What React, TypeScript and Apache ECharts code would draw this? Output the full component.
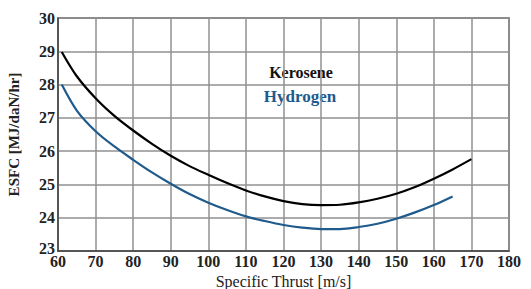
import React, { useEffect, useRef } from "react";
import * as echarts from "echarts";

const keroseneX = [61, 65, 70, 75, 80, 85, 90, 95, 100, 105, 110, 115, 120, 125, 130, 135, 140, 145, 150, 155, 160, 165, 170];
const keroseneY = [28.98, 28.25, 27.59, 27.06, 26.62, 26.22, 25.86, 25.55, 25.29, 25.04, 24.82, 24.64, 24.5, 24.41, 24.38, 24.39, 24.46, 24.57, 24.72, 24.92, 25.17, 25.45, 25.76];
const hydrogenX = [61, 65, 70, 75, 80, 85, 90, 95, 100, 105, 110, 115, 120, 125, 130, 135, 140, 145, 150, 155, 160, 165];
const hydrogenY = [28.0, 27.22, 26.6, 26.14, 25.74, 25.36, 25.02, 24.71, 24.45, 24.23, 24.04, 23.9, 23.78, 23.7, 23.66, 23.66, 23.72, 23.82, 23.97, 24.16, 24.38, 24.64];
const seriesNames = ["Kerosene", "Hydrogen"];
const xTitle = "Specific Thrust [m/s]";
const yTitle = "ESFC [MJ/daN/hr]";

const FONT = "'Liberation Serif', 'DejaVu Serif', serif";

export default function App() {
  const ref = useRef<HTMLDivElement>(null);
  useEffect(() => {
    if (!ref.current) return;
    const chart = echarts.init(ref.current, undefined, { renderer: "svg" });
    const zip = (xs: number[], ys: number[]) => xs.map((x, i) => [x, ys[i]]);
    chart.setOption({
      animation: false,
      backgroundColor: "#ffffff",
      grid: {
        left: 58,
        right: 22,
        top: 18,
        bottom: 38,
        show: true,
        borderColor: "#555",
        borderWidth: 1.5,
        containLabel: false,
        outerBoundsMode: "none",
      },
      xAxis: {
        type: "value",
        min: 60,
        max: 180,
        interval: 10,
        name: xTitle,
        nameLocation: "middle",
        nameGap: 17,
        nameTextStyle: { fontFamily: FONT, fontSize: 16, color: "#222" },
        axisLine: { show: true, lineStyle: { color: "#444", width: 1.5 } },
        axisTick: { show: false },
        axisLabel: {
          fontFamily: FONT,
          fontWeight: "bold",
          fontSize: 16,
          color: "#222",
          margin: 2,
        },
        splitLine: { show: true, lineStyle: { color: "#909090", width: 1.5 } },
      },
      yAxis: {
        type: "value",
        min: 23,
        max: 30,
        interval: 1,
        name: yTitle,
        nameLocation: "middle",
        nameGap: 37,
        nameTextStyle: { fontFamily: FONT, fontSize: 15, fontWeight: "bold", color: "#222" },
        axisLine: { show: true, lineStyle: { color: "#444", width: 1.5 } },
        axisTick: { show: false },
        axisLabel: {
          fontFamily: FONT,
          fontWeight: "bold",
          fontSize: 16,
          color: "#222",
          margin: 3,
          formatter: (v: number) => (v === 23 ? "{low|23}" : String(v)),
          rich: {
            low: {
              fontFamily: FONT,
              fontWeight: "bold",
              fontSize: 16,
              color: "#222",
              padding: [0, 0, 6, 0],
            },
          },
        },
        splitLine: { show: true, lineStyle: { color: "#909090", width: 1.5 } },
      },
      series: [
        {
          name: seriesNames[0],
          type: "line",
          data: zip(keroseneX, keroseneY),
          smooth: 0.3,
          showSymbol: false,
          lineStyle: { color: "#000000", width: 2.2 },
        },
        {
          name: seriesNames[1],
          type: "line",
          data: zip(hydrogenX, hydrogenY),
          smooth: 0.3,
          showSymbol: false,
          lineStyle: { color: "#1f5a8c", width: 2.2 },
        },
      ],
      graphic: [
        {
          type: "text",
          x: 301,
          y: 72,
          style: {
            text: seriesNames[0],
            fontFamily: FONT,
            fontSize: 16,
            fontWeight: "bold",
            fill: "#111",
            align: "center",
            verticalAlign: "middle",
          },
        },
        {
          type: "text",
          x: 300,
          y: 96,
          style: {
            text: seriesNames[1],
            fontFamily: FONT,
            fontSize: 17,
            fontWeight: "bold",
            fill: "#1f5a8c",
            align: "center",
            verticalAlign: "middle",
          },
        },
      ],
    });
    return () => chart.dispose();
  }, []);
  return <div ref={ref} style={{ width: 531, height: 289, position: "absolute", left: 0, top: 0 }} />;
}
